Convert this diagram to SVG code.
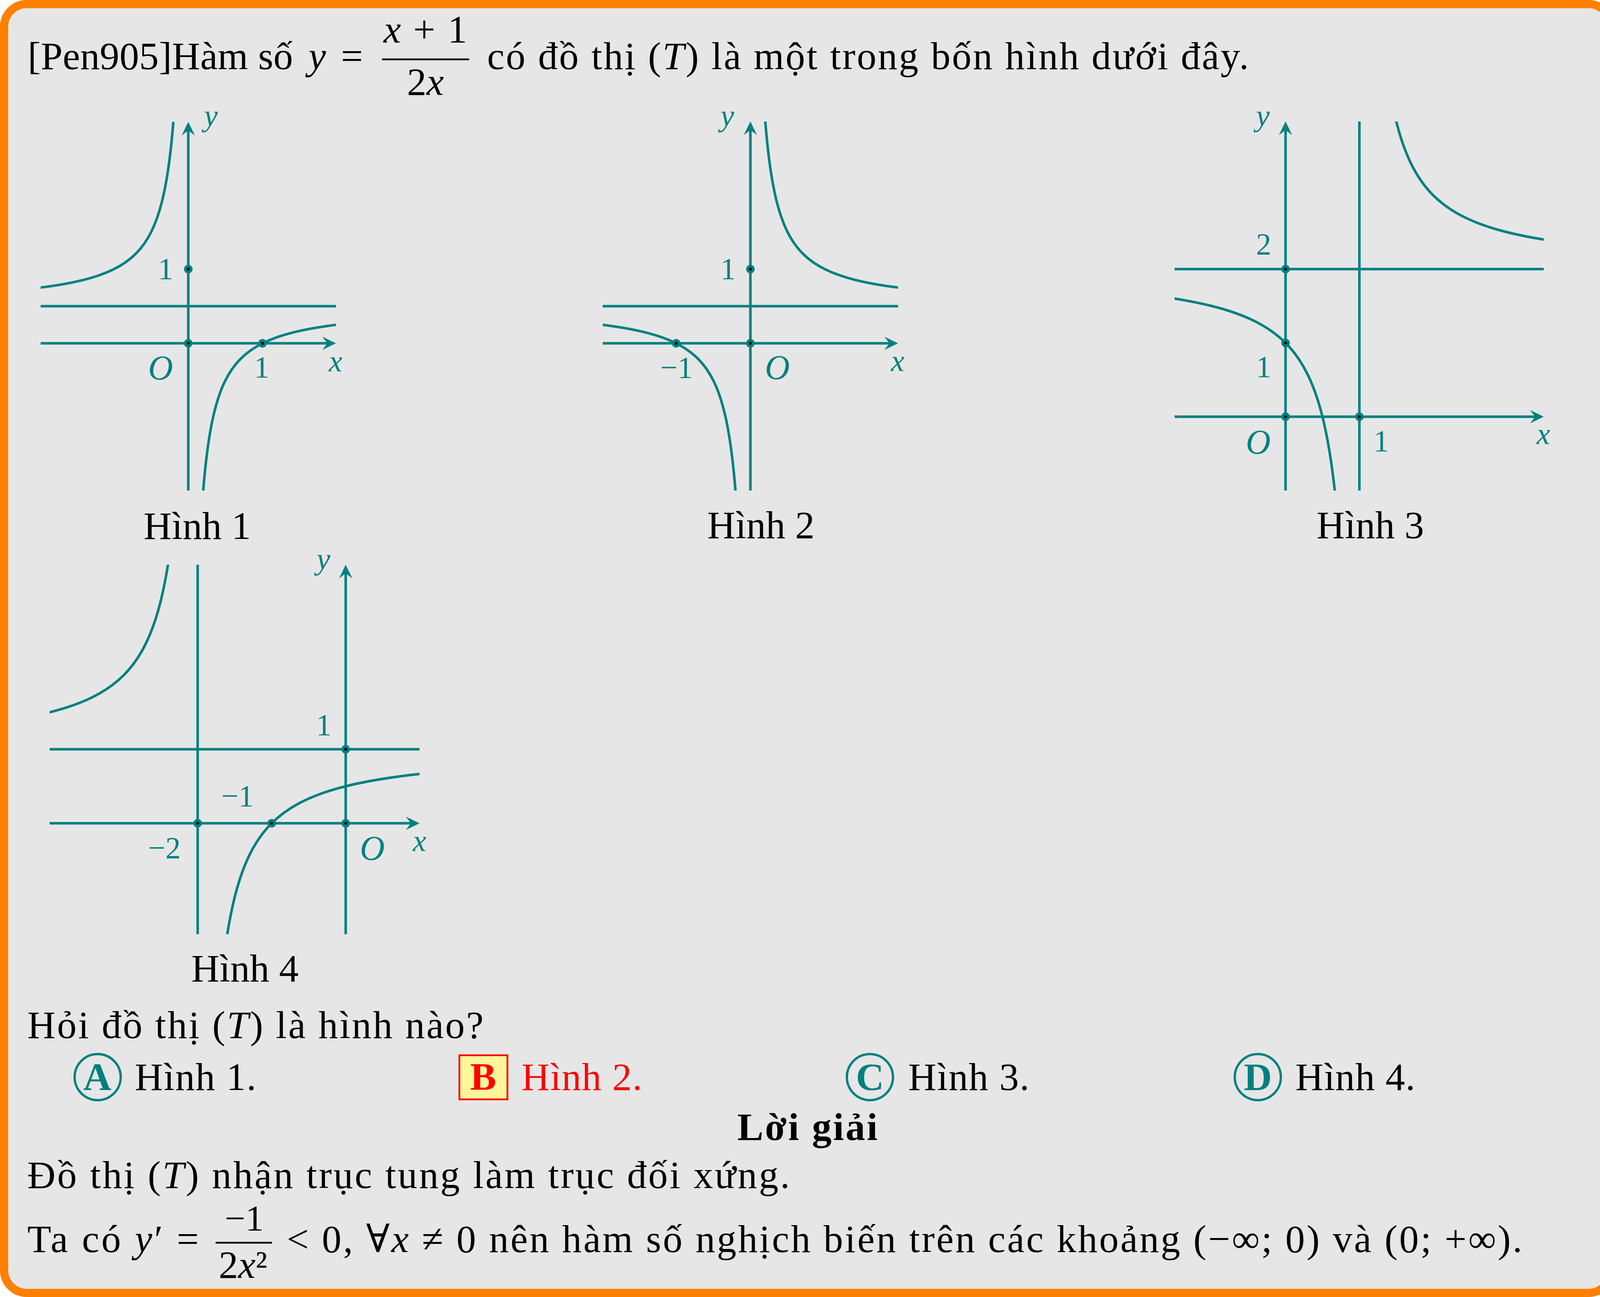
<svg xmlns="http://www.w3.org/2000/svg" xmlns:xlink="http://www.w3.org/1999/xlink" width="4135" height="3321" viewBox="0 0 4135 3321">
<style>
.t{font-family:"Liberation Serif","DejaVu Serif",serif;font-size:100px;fill:#000}
.c{text-anchor:middle}
.i{font-style:italic}
.lb{font-family:"Liberation Serif","DejaVu Serif",serif;font-size:78px;fill:#008080;text-anchor:middle}
.o{font-size:88px}
.ax{stroke:#008080;stroke-width:6.5;fill:none}
.axa{stroke:#008080;stroke-width:6.5;fill:none;marker-end:url(#ah)}
.cv{stroke:#008080;fill:none}
.bar{stroke:#000;stroke-width:4.5}
.opt{fill:none;stroke:#008080;stroke-width:6}
.ol{font-family:"Liberation Serif","DejaVu Serif",serif;font-size:100px;font-weight:bold;fill:#008080;text-anchor:middle}
</style>
<defs>
<marker id="ah" markerUnits="userSpaceOnUse" orient="auto" overflow="visible" refX="0" refY="0" markerWidth="1" markerHeight="1">
<path d="M12,0 L-23,-17 L-10,0 L-23,17 Z" fill="#008080"/>
</marker>
<g id="dot"><circle r="11" fill="#008080"/><circle r="3.8" fill="#000"/></g>
<path id="hyp" d="M0.25,4 C0.283333,3.46667 0.316667,3.129252 0.35,2.857143 C0.4,2.44898 0.45,2.2 0.5,2 C0.566667,1.733333 0.633333,1.564626 0.7,1.428571 C0.8,1.22449 0.9,1.1 1,1 C1.1,0.9 1.22449,0.8 1.428571,0.7 C1.564626,0.633333 1.733333,0.566667 2,0.5 C2.2,0.45 2.44898,0.4 2.857143,0.35 C3.129252,0.316667 3.46667,0.283333 4,0.25"/>
<clipPath id="c1"><rect x="104" y="312" width="756" height="944"/></clipPath>
<clipPath id="c2"><rect x="1543" y="311" width="756" height="945"/></clipPath>
<clipPath id="c3"><rect x="3007" y="311" width="945" height="945"/></clipPath>
<clipPath id="c4"><rect x="127" y="1446" width="947" height="946"/></clipPath>
</defs>

<rect id="frame" x="10.5" y="10.5" width="4114" height="3300" rx="58" ry="58" fill="#e6e6e6" stroke="#ff8000" stroke-width="21"/>

<g id="title">
<text class="t" x="71" y="177" textLength="679" lengthAdjust="spacing">[Pen905]Hàm số</text>
<text class="t i" x="790" y="177">y</text>
<text class="t c" x="901" y="177">=</text>
<text class="t c" x="1089" y="109" textLength="214" lengthAdjust="spacing"><tspan class="i">x</tspan> + 1</text>
<line class="bar" x1="978" y1="152" x2="1201" y2="152"/>
<text class="t c" x="1089" y="243">2<tspan class="i">x</tspan></text>
<text class="t" x="1247" y="177" textLength="1950" lengthAdjust="spacing">có đồ thị (<tspan class="i">T</tspan>) là một trong bốn hình dưới đây.</text>
</g>

<g id="hinh1">
<line class="ax" x1="104" y1="784" x2="860" y2="784"/>
<path class="axa" d="M104,879 H848"/>
<path class="axa" d="M482,1256 V324"/>
<g clip-path="url(#c1)">
<use xlink:href="#hyp" class="cv" stroke-width="0.0484" transform="matrix(134.35,0,0,134.35,482,784)"/>
<use xlink:href="#hyp" class="cv" stroke-width="0.0484" transform="matrix(-134.35,0,0,-134.35,482,784)"/>
</g>
<use xlink:href="#dot" x="482" y="689"/>
<use xlink:href="#dot" x="482" y="879"/>
<use xlink:href="#dot" x="672" y="879"/>
<text class="lb i" x="540" y="322">y</text>
<text class="lb" x="424" y="714">1</text>
<text class="lb i o" x="411" y="971">O</text>
<text class="lb" x="670" y="966">1</text>
<text class="lb i" x="859" y="951">x</text>
<text class="t c" x="505" y="1380">Hình 1</text>
</g>

<g id="hinh2">
<line class="ax" x1="1543" y1="784" x2="2299" y2="784"/>
<path class="axa" d="M1543,879 H2287"/>
<path class="axa" d="M1921,1256 V323"/>
<g clip-path="url(#c2)">
<use xlink:href="#hyp" class="cv" stroke-width="0.0484" transform="matrix(134.35,0,0,-134.35,1921,784)"/>
<use xlink:href="#hyp" class="cv" stroke-width="0.0484" transform="matrix(-134.35,0,0,134.35,1921,784)"/>
</g>
<use xlink:href="#dot" x="1921" y="689"/>
<use xlink:href="#dot" x="1731" y="879"/>
<use xlink:href="#dot" x="1921" y="879"/>
<text class="lb i" x="1862" y="322">y</text>
<text class="lb" x="1864" y="714">1</text>
<text class="lb" x="1732" y="967">−1</text>
<text class="lb i o" x="1990" y="970">O</text>
<text class="lb i" x="2298" y="950">x</text>
<text class="t c" x="1948" y="1378">Hình 2</text>
</g>

<g id="hinh3">
<line class="ax" x1="3007" y1="689" x2="3952" y2="689"/>
<line class="ax" x1="3480" y1="1256" x2="3480" y2="311"/>
<path class="axa" d="M3007,1067 H3940"/>
<path class="axa" d="M3291,1256 V323"/>
<g clip-path="url(#c3)">
<use xlink:href="#hyp" class="cv" stroke-width="0.0344" transform="matrix(189,0,0,-189,3480,689)"/>
<use xlink:href="#hyp" class="cv" stroke-width="0.0344" transform="matrix(-189,0,0,189,3480,689)"/>
</g>
<use xlink:href="#dot" x="3291" y="1067"/>
<use xlink:href="#dot" x="3480" y="1067"/>
<use xlink:href="#dot" x="3291" y="689"/>
<use xlink:href="#dot" x="3291" y="878"/>
<text class="lb i" x="3233" y="322">y</text>
<text class="lb" x="3235" y="651">2</text>
<text class="lb" x="3235" y="965">1</text>
<text class="lb i o" x="3221" y="1161">O</text>
<text class="lb" x="3536" y="1155">1</text>
<text class="lb i" x="3951" y="1137">x</text>
<text class="t c" x="3508" y="1378">Hình 3</text>
</g>

<g id="hinh4">
<line class="ax" x1="127" y1="1918.5" x2="1074" y2="1918.5"/>
<line class="ax" x1="506" y1="2392" x2="506" y2="1446"/>
<path class="axa" d="M127,2108 H1062"/>
<path class="axa" d="M885,2392 V1458"/>
<g clip-path="url(#c4)">
<use xlink:href="#hyp" class="cv" stroke-width="0.0343" transform="matrix(-189.5,0,0,-189.5,506,1918.5)"/>
<use xlink:href="#hyp" class="cv" stroke-width="0.0343" transform="matrix(189.5,0,0,189.5,506,1918.5)"/>
</g>
<use xlink:href="#dot" x="506" y="2108"/>
<use xlink:href="#dot" x="695.5" y="2108"/>
<use xlink:href="#dot" x="885" y="2108"/>
<use xlink:href="#dot" x="885" y="1918.5"/>
<text class="lb i" x="828" y="1457">y</text>
<text class="lb" x="829" y="1882">1</text>
<text class="lb" x="608" y="2064">−1</text>
<text class="lb" x="421" y="2197">−2</text>
<text class="lb i o" x="953" y="2201">O</text>
<text class="lb i" x="1074" y="2179">x</text>
<text class="t c" x="627" y="2513">Hình 4</text>
</g>

<g id="question">
<text class="t" x="70" y="2658" textLength="1168" lengthAdjust="spacing">Hỏi đồ thị (<tspan class="i">T</tspan>) là hình nào?</text>
</g>

<g id="options">
<circle class="opt" cx="250" cy="2758" r="59"/>
<text class="ol" x="249" y="2791">A</text>
<text class="t" x="345" y="2791" textLength="311" lengthAdjust="spacing">Hình 1.</text>
<rect x="1176" y="2702" width="123" height="113" fill="#fff59a" stroke="#ff0000" stroke-width="4.5"/>
<text class="ol" x="1237" y="2790" style="fill:#ff0000">B</text>
<text class="t" x="1335" y="2791" textLength="309" lengthAdjust="spacing" style="fill:#ff0000">Hình 2.</text>
<circle class="opt" cx="2227" cy="2758" r="59"/>
<text class="ol" x="2227" y="2791">C</text>
<text class="t" x="2325" y="2791" textLength="310" lengthAdjust="spacing">Hình 3.</text>
<circle class="opt" cx="3220" cy="2758" r="59"/>
<text class="ol" x="3220" y="2791">D</text>
<text class="t" x="3316" y="2791" textLength="307" lengthAdjust="spacing">Hình 4.</text>
</g>

<g id="solution">
<text class="t c" x="2067" y="2919" font-weight="bold" textLength="359" lengthAdjust="spacing">Lời giải</text>
<text class="t" x="70" y="3042" textLength="1952" lengthAdjust="spacing">Đồ thị (<tspan class="i">T</tspan>) nhận trục tung làm trục đối xứng.</text>
<text class="t" x="70" y="3206" textLength="439" lengthAdjust="spacing">Ta có <tspan class="i">y</tspan>′ =</text>
<text class="t c" x="625" y="3151" style="font-size:94px">−1</text>
<line class="bar" x1="552" y1="3182" x2="696" y2="3182"/>
<text class="t c" x="622" y="3272">2<tspan class="i">x</tspan>²</text>
<text class="t" x="734" y="3206" textLength="3163" lengthAdjust="spacing">&lt; 0, ∀<tspan class="i">x</tspan> ≠ 0 nên hàm số nghịch biến trên các khoảng (−∞; 0) và (0; +∞).</text>
</g>
</svg>
